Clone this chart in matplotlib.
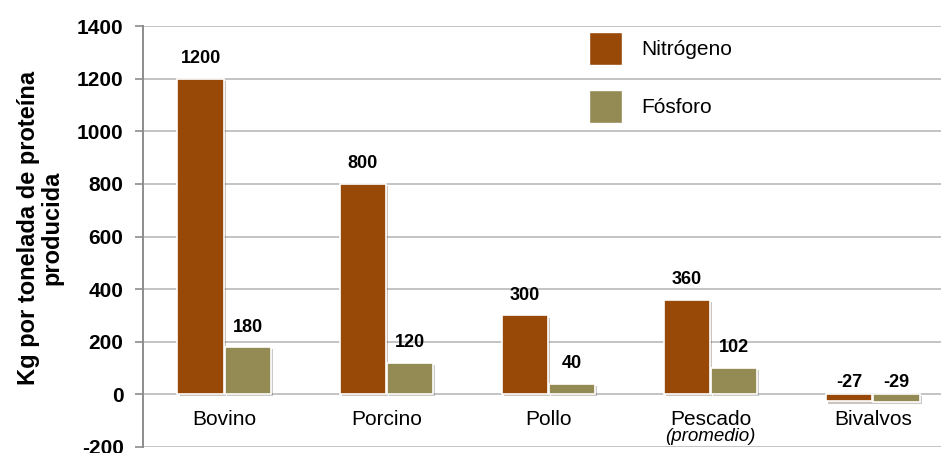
import numpy as np
from matplotlib import pyplot as plt
from matplotlib import patheffects as pe
from matplotlib.patches import Patch

# data
categorias = ['Bovino', 'Porcino', 'Pollo', 'Pescado', 'Bivalvos']
nitrogeno = [1200, 800, 300, 360, -27]
fosforo = [180, 120, 40, 102, -29]
series = ['Nitrógeno', 'Fósforo']
colores = ['#984807', '#948A54']
yticks = list(range(-200, 1401, 200))

plt.rcParams['font.family'] = ['Liberation Sans', 'DejaVu Sans']

fig = plt.figure(figsize=(9.41, 4.53), dpi=100)
ax = fig.add_axes([143/941, 6/453, 1 - 143/941, (447 - 26)/453])

x = np.arange(len(categorias))
w = 0.285
off = 0.145
sombra = [pe.SimplePatchShadow(offset=(1.5, -1.5), alpha=0.25), pe.Normal()]
for vals, dx, col in [(nitrogeno, -off, colores[0]), (fosforo, off, colores[1])]:
    bars = ax.bar(x + dx, vals, w, color=col, edgecolor='white', linewidth=1.2, zorder=3)
    for b, v in zip(bars, vals):
        b.set_path_effects(sombra)
        base = max(v, 0)
        dy = 20 if v > 0 else 12
        ax.annotate(str(v), (b.get_x() + b.get_width()/2, base), xytext=(0, dy*0.72),
                    textcoords='offset points', ha='center', va='center',
                    fontsize=13, fontweight='bold', zorder=4)

# category labels inside the plot below zero
for i, c in enumerate(categorias):
    ax.text(i, -95, c, ha='center', va='center', fontsize=15)
ax.text(3, -160, '(promedio)', ha='center', va='center', fontsize=13.5, style='italic')

ax.set_ylim(-200, 1400)
ax.set_xlim(-0.5, 4.42)
ax.set_yticks(yticks)
ax.set_yticklabels([str(t) for t in yticks], fontsize=15, fontweight='bold')
ax.set_xticks([])
ax.grid(axis='y', color='#c3c3c3', linewidth=1.4, zorder=0)
ax.set_axisbelow(True)
for s in ['top', 'right', 'bottom']:
    ax.spines[s].set_visible(False)
ax.spines['left'].set_color('#8c8c8c')
ax.spines['left'].set_linewidth(1.4)
ax.tick_params(axis='y', length=6, width=1.2, color='#8c8c8c', pad=8)

fig.text(40/941, 1 - 228/453, 'Kg por tonelada de proteína\nproducida', rotation=90,
         ha='center', va='center', fontsize=17, fontweight='bold', linespacing=1.0)

handles = [Patch(facecolor=c, edgecolor='white') for c in colores]
ax.legend(handles, series, loc='upper left', bbox_to_anchor=(589/941, 1 - 32/453),
          bbox_transform=fig.transFigure, frameon=False, fontsize=15,
          handlelength=1.6, handleheight=2.05, labelspacing=1.22,
          handletextpad=0.9, borderpad=0, borderaxespad=0)

plt.savefig('out.png', dpi=100)
